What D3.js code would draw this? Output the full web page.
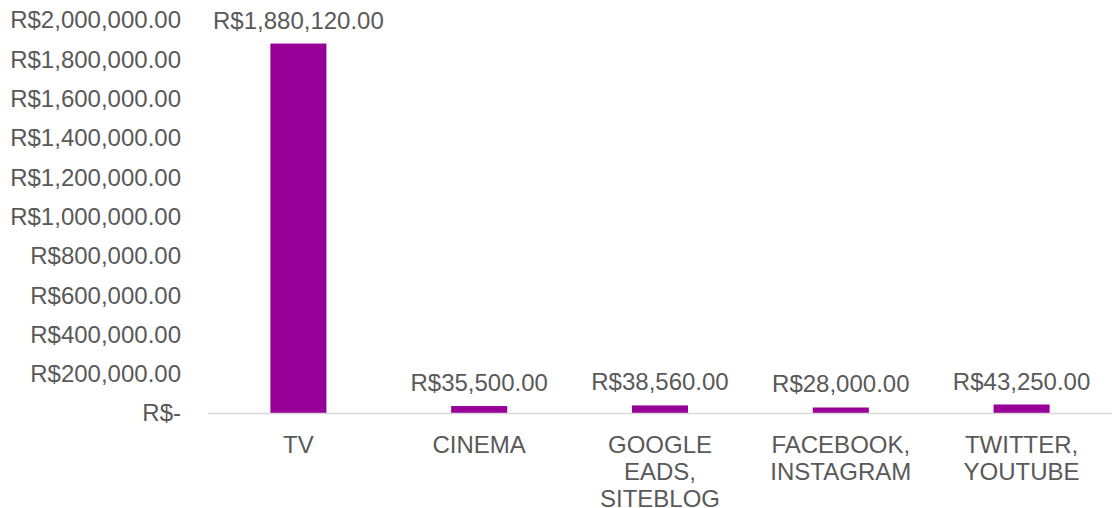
<!DOCTYPE html>
<html>
<head>
<meta charset="utf-8">
<script src="https://cdn.jsdelivr.net/npm/d3@7"></script>
<style>
  body { margin: 0; background: #fff; }
  svg text { font-family: "Liberation Sans", Arial, sans-serif; fill: #595959; }
</style>
</head>
<body>
<svg id="chart" width="1112" height="508"></svg>
<script>
const categories = [["TV"], ["CINEMA"], ["GOOGLE", "EADS,", "SITEBLOG"], ["FACEBOOK,", "INSTAGRAM"], ["TWITTER,", "YOUTUBE"]];
const values = [1880120, 35500, 38560, 28000, 43250];
const yTicks = [0, 200000, 400000, 600000, 800000, 1000000, 1200000, 1400000, 1600000, 1800000, 2000000];

const width = 1112, height = 508,
    margin = { top: 20, right: 0, bottom: 95, left: 208 };

const svg = d3.select("#chart");

const money = v => v === 0 ? "R$-" : "R$" + d3.format(",.2f")(v);

const x = d3.scaleBand()
    .domain(d3.range(values.length))
    .range([margin.left, width - margin.right])
    .paddingInner(0.69)
    .paddingOuter(0.345);

const y = d3.scaleLinear()
    .domain([0, 2000000])
    .range([height - margin.bottom, margin.top]);

// y axis labels
svg.append("g")
    .selectAll("text")
    .data(yTicks)
    .join("text")
    .attr("x", 181)
    .attr("y", d => y(d))
    .attr("dy", "0.35em")
    .attr("text-anchor", "end")
    .attr("font-size", 24)
    .text(d => money(d));

// bars
svg.append("g")
    .selectAll("rect")
    .data(values)
    .join("rect")
    .attr("x", (d, i) => x(i))
    .attr("y", d => y(d))
    .attr("width", x.bandwidth())
    .attr("height", d => y(0) - y(d))
    .attr("fill", "#990099");

// baseline
svg.append("line")
    .attr("x1", margin.left)
    .attr("x2", width)
    .attr("y1", y(0) + 0.5)
    .attr("y2", y(0) + 0.5)
    .attr("stroke", "#d9d9d9")
    .attr("stroke-width", 1.5);

// data labels
svg.append("g")
    .selectAll("text")
    .data(values)
    .join("text")
    .attr("x", (d, i) => x(i) + x.bandwidth() / 2)
    .attr("y", d => y(d) - 15)
    .attr("text-anchor", "middle")
    .attr("font-size", 24)
    .text(d => money(d));

// category labels
const cat = svg.append("g")
    .selectAll("text")
    .data(categories)
    .join("text")
    .attr("x", (d, i) => x(i) + x.bandwidth() / 2)
    .attr("y", y(0) + 40)
    .attr("text-anchor", "middle")
    .attr("font-size", 24);

cat.selectAll("tspan")
    .data((d, i) => d.map(t => ({ t, i })))
    .join("tspan")
    .attr("x", d => x(d.i) + x.bandwidth() / 2)
    .attr("dy", (d, j) => j === 0 ? 0 : 27)
    .text(d => d.t);
</script>
</body>
</html>
